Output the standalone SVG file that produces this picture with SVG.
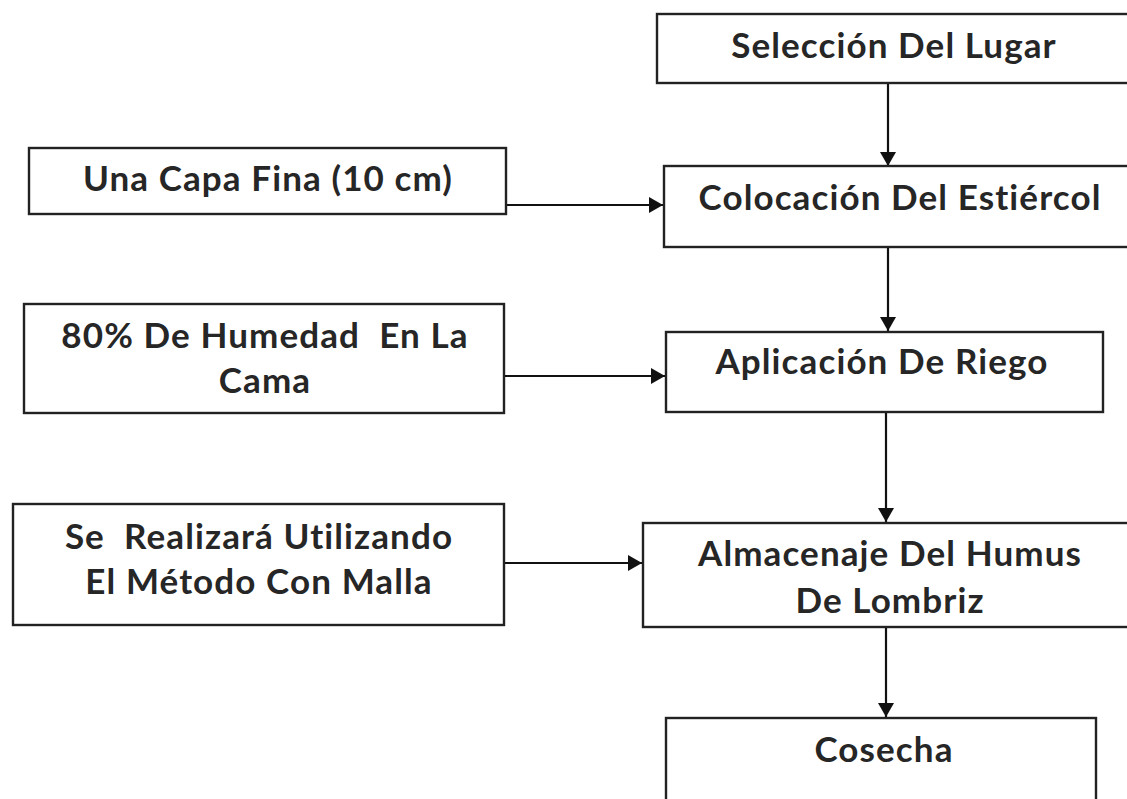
<svg xmlns="http://www.w3.org/2000/svg" width="1127" height="799" viewBox="0 0 1127 799">
<defs>
<style>
.box{fill:#fff;stroke:#222;stroke-width:2.4}
.t{font-family:Lato,"Open Sans","Liberation Sans",sans-serif;font-weight:700;font-size:35px;letter-spacing:1.1px;fill:#262626;text-anchor:middle;white-space:pre}
.c{stroke:#111;stroke-width:2.2;fill:none;marker-end:url(#ah)}
</style>
<marker id="ah" markerUnits="userSpaceOnUse" markerWidth="18" markerHeight="18" refX="14" refY="8" orient="auto">
<path d="M0,0 L14,8 L0,16 Z" fill="#111"/>
</marker>
</defs>
<rect width="1127" height="799" fill="#fff"/>
<g id="connectors">
<line class="c" x1="888" y1="83" x2="888" y2="166"/>
<line class="c" x1="507" y1="205" x2="663" y2="205"/>
<line class="c" x1="888" y1="247" x2="888" y2="331"/>
<line class="c" x1="505" y1="376" x2="665" y2="376"/>
<line class="c" x1="886" y1="412" x2="886" y2="522"/>
<line class="c" x1="504" y1="563" x2="642" y2="563"/>
<line class="c" x1="886" y1="627" x2="886" y2="717"/>
</g>
<g id="n-seleccion">
<rect class="box" x="657" y="14" width="480" height="69"/>
<text class="t" x="894" y="58">Selección Del Lugar</text>
</g>
<g id="n-colocacion">
<rect class="box" x="664" y="166" width="473" height="81"/>
<text class="t" x="900" y="210">Colocación Del Estiércol</text>
</g>
<g id="n-capa">
<rect class="box" x="29" y="148" width="477" height="66"/>
<text class="t" x="268" y="191">Una Capa Fina (10 cm)</text>
</g>
<g id="n-riego">
<rect class="box" x="666" y="332" width="437" height="80"/>
<text class="t" x="882" y="374">Aplicación De Riego</text>
</g>
<g id="n-humedad">
<rect class="box" x="24" y="304" width="480" height="109"/>
<text class="t" x="265" y="348">80% De Humedad  En La</text>
<text class="t" x="265" y="393">Cama</text>
</g>
<g id="n-almacenaje">
<rect class="box" x="643" y="523" width="494" height="104"/>
<text class="t" x="890" y="566">Almacenaje Del Humus</text>
<text class="t" x="890" y="613">De Lombriz</text>
</g>
<g id="n-malla">
<rect class="box" x="13" y="504" width="491" height="121"/>
<text class="t" x="259" y="549">Se  Realizará Utilizando</text>
<text class="t" x="259" y="594">El Método Con Malla</text>
</g>
<g id="n-cosecha">
<rect class="box" x="666" y="718" width="430" height="100"/>
<text class="t" x="884" y="762">Cosecha</text>
</g>
</svg>
